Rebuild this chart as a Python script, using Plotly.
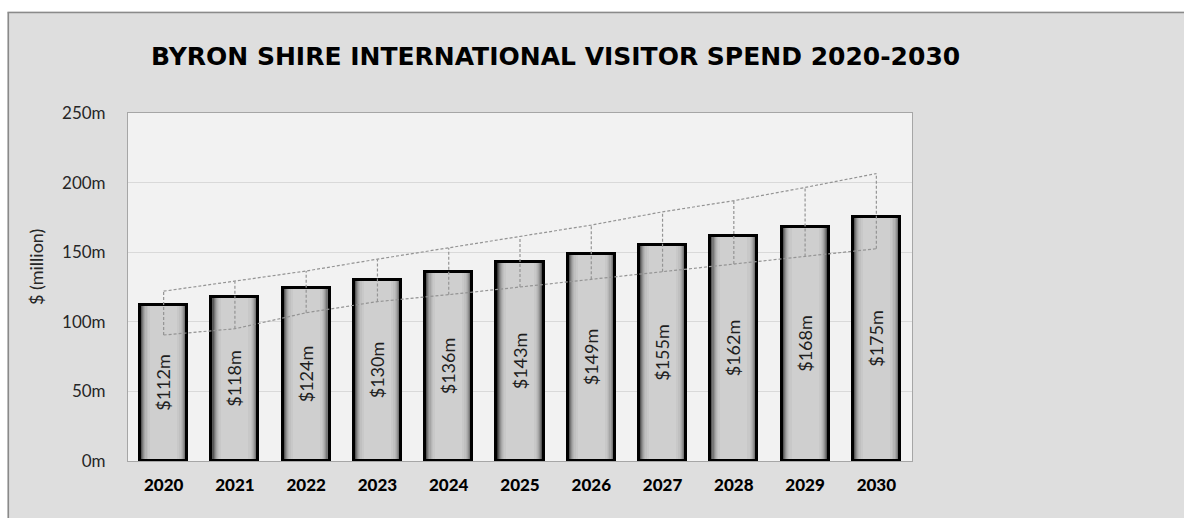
import plotly.graph_objects as go

# ---- data -------------------------------------------------------------
years = ["2020", "2021", "2022", "2023", "2024", "2025",
         "2026", "2027", "2028", "2029", "2030"]
spend = [112, 118, 124, 130, 136, 143, 149, 155, 162, 168, 175]          # $ million
upper = [122, 129, 136.5, 145, 153, 161.5, 169.5, 179, 187, 196.5, 206.5]
lower = [90.5, 95, 106.5, 114.5, 119.5, 125, 130.5, 136, 141.5, 147, 152.5]
y_ticks = [0, 50, 100, 150, 200, 250]

# ---- geometry of the page (pixels) -----------------------------------
W, H = 1184, 518
L, R, T, B = 128, 912, 113, 461          # plot area edges


def px_x(px):
    return (px - L) / (R - L)


def px_y(py):
    return (B - py) / (B - T)


BAR_W = 0.66
# horizontal shading of the columns: dark at the edges, light in the middle
shade_widths = [0.66, 0.63, 0.60, 0.57, 0.54, 0.51, 0.48, 0.44, 0.38]
shade_colors = ["#333333", "#575757", "#777777", "#919191", "#a6a6a6",
                "#b5b5b5", "#c0c0c0", "#c8c8c8", "#cfcfcf"]

fig = go.Figure()

for w, c in zip(shade_widths, shade_colors):
    fig.add_trace(go.Bar(
        x=years, y=spend, width=w,
        marker=dict(color=c, line=dict(width=0)),
        hoverinfo="skip", showlegend=False,
    ))

# outline + value labels
fig.add_trace(go.Bar(
    x=years, y=spend, width=BAR_W,
    marker=dict(color="rgba(0,0,0,0)", line=dict(color="#000000", width=3)),
    text=[f"${v}m" for v in spend],
    textposition="inside", insidetextanchor="middle", textangle=-90,
    constraintext="none",
    textfont=dict(family="Lato", size=18, color="#1e1e1e"),
    hoverinfo="skip", showlegend=False,
))

dash_style = dict(color="#949494", width=1.2, dash="3px,2px")

# upper and lower range lines
fig.add_trace(go.Scatter(x=years, y=upper, mode="lines", line=dash_style,
                         hoverinfo="skip", showlegend=False))
fig.add_trace(go.Scatter(x=years, y=lower, mode="lines", line=dash_style,
                         hoverinfo="skip", showlegend=False))

# high-low connectors
hx, hy = [], []
for yr, lo, hi in zip(years, lower, upper):
    hx += [yr, yr, None]
    hy += [lo, hi, None]
fig.add_trace(go.Scatter(x=hx, y=hy, mode="lines", line=dash_style,
                         hoverinfo="skip", showlegend=False,
                         connectgaps=False))

fig.update_layout(
    width=W, height=H,
    margin=dict(l=L, r=W - R, t=T, b=H - B, pad=0),
    paper_bgcolor="#dedede",
    plot_bgcolor="#f2f2f2",
    barmode="overlay",
    bargap=0,
    font=dict(family="Lato", color="#262626"),
    xaxis=dict(
        type="category",
        showline=True, linecolor="#a6a6a6", linewidth=1, mirror=True,
        showgrid=False, ticks="", ticklabelstandoff=9,
        tickfont=dict(family="Lato", size=17, color="#000000", weight=900),
    ),
    yaxis=dict(
        range=[0, 250], tickvals=y_ticks, ticktext=[f"{v}m" for v in y_ticks],
        showline=True, linecolor="#a6a6a6", linewidth=1, mirror=True,
        gridcolor="#d9d9d9", gridwidth=1, zeroline=False,
        ticks="", ticklabelstandoff=18,
        tickfont=dict(family="Lato", size=17, color="#262626"),
    ),
    shapes=[
        # white strips around the chart panel
        dict(type="rect", xref="paper", yref="paper",
             x0=px_x(-5), x1=px_x(W + 5), y0=px_y(-5), y1=px_y(11.5),
             fillcolor="#ffffff", line=dict(width=0), layer="above"),
        dict(type="rect", xref="paper", yref="paper",
             x0=px_x(-5), x1=px_x(7.5), y0=px_y(-5), y1=px_y(H + 5),
             fillcolor="#ffffff", line=dict(width=0), layer="above"),
        # panel border (top and left)
        dict(type="line", xref="paper", yref="paper",
             x0=px_x(7.5), x1=px_x(W + 5), y0=px_y(12.5), y1=px_y(12.5),
             line=dict(color="#8a8a8a", width=1.6), layer="above"),
        dict(type="line", xref="paper", yref="paper",
             x0=px_x(8.3), x1=px_x(8.3), y0=px_y(12.5), y1=px_y(H + 5),
             line=dict(color="#8a8a8a", width=1.6), layer="above"),
    ],
    annotations=[
        dict(text="BYRON SHIRE INTERNATIONAL VISITOR SPEND 2020-2030",
             xref="paper", yref="paper", x=px_x(555.5), y=px_y(57),
             xanchor="center", yanchor="middle", showarrow=False,
             font=dict(family="DejaVu Sans", size=25, color="#000000",
                       weight="bold")),
        dict(text="$ (million)", textangle=-90,
             xref="paper", yref="paper", x=px_x(36), y=px_y(267),
             xanchor="center", yanchor="middle", showarrow=False,
             font=dict(family="Lato", size=18, color="#262626")),
    ],
)

fig.write_html("out.html")
